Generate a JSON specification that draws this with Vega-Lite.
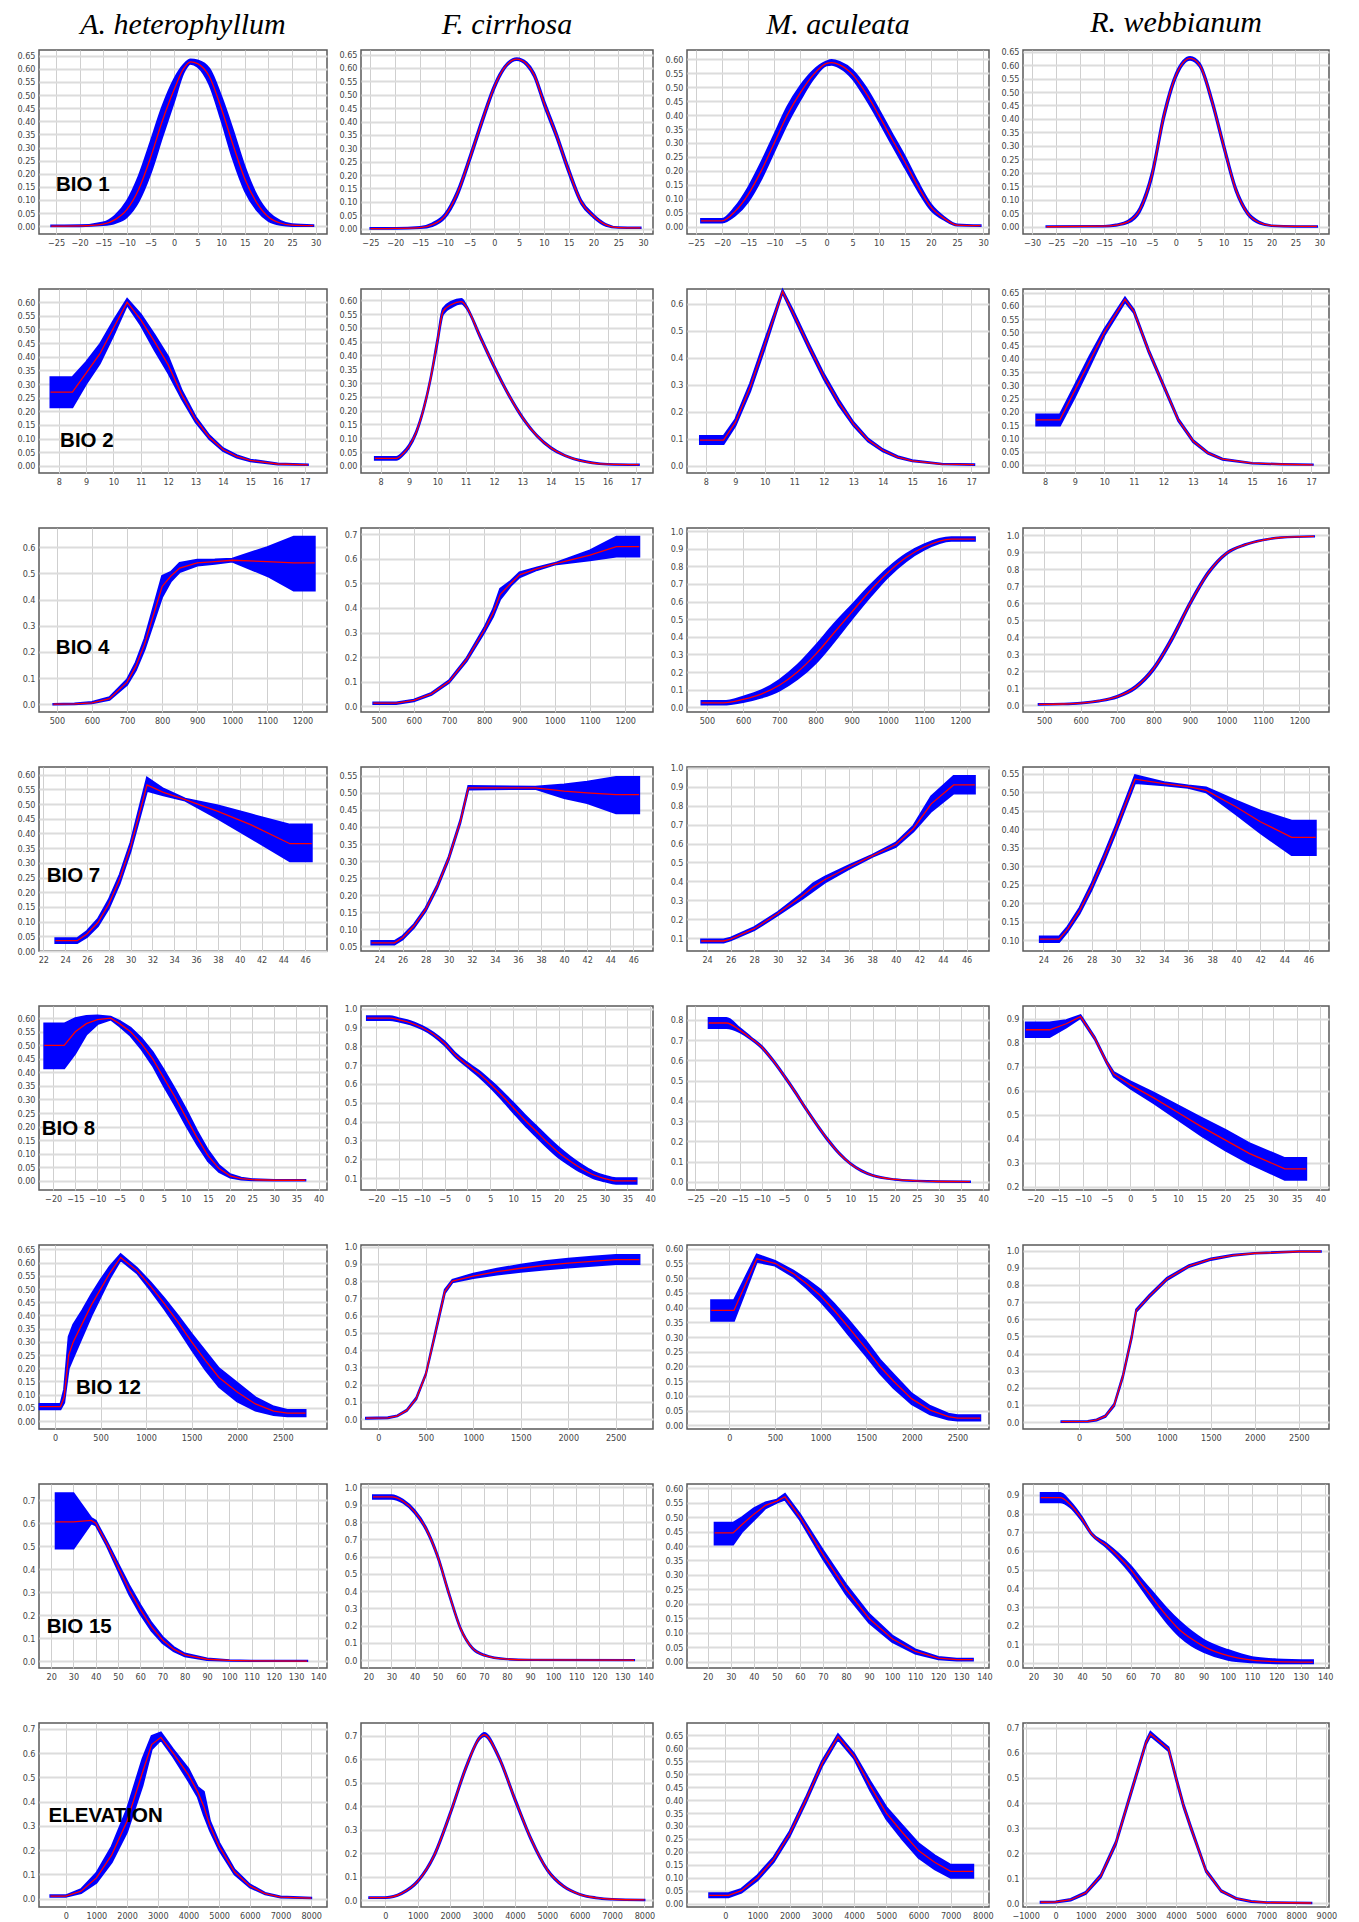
{
"$schema":"https://vega.github.io/schema/vega-lite/v6.json",
"background":"white",
"padding":{"left":16,"top":6,"right":4,"bottom":2},
"config":{
 "view":{"stroke":"#5a5a5a","strokeWidth":1.5},
 "axis":{"grid":true,"domain":false,"ticks":false,"labelOverlap":false,"labelFont":"Liberation Sans Narrow, DejaVu Sans Condensed, Arial Narrow, sans-serif","labelFontSize":9,"labelColor":"#444","labelPadding":4,"gridColor":"#cfcfcf","gridWidth":1},
 "axisY":{"gridColor":"#dcdcdc","gridWidth":2,"minExtent":22,"maxExtent":22},
 "title":{"font":"Liberation Serif","fontStyle":"italic","fontSize":30,"fontWeight":"normal","color":"#000","offset":10},
 "area":{"color":"#0000ff","stroke":"#0000ff","strokeWidth":2,"opacity":1},
 "line":{"color":"#ff0000","strokeWidth":1.3},
 "text":{"align":"left","baseline":"middle","font":"Liberation Sans","fontWeight":"bold","fontSize":20.5,"color":"#000"}
},
"datasets":{
"A1":[{"x":-26,"m":0,"l":0,"h":0.002},{"x":-20,"m":0.001,"l":0,"h":0.003},{"x":-15,"m":0.008,"l":0.004,"h":0.014},{"x":-12.5,"m":0.025,"l":0.012,"h":0.04},{"x":-10,"m":0.063,"l":0.035,"h":0.095},{"x":-7.5,"m":0.14,"l":0.095,"h":0.19},{"x":-5,"m":0.26,"l":0.2,"h":0.32},{"x":-2.5,"m":0.4,"l":0.34,"h":0.455},{"x":0,"m":0.52,"l":0.475,"h":0.56},{"x":2,"m":0.6,"l":0.585,"h":0.615},{"x":3.5,"m":0.627,"l":0.62,"h":0.636},{"x":5,"m":0.62,"l":0.608,"h":0.632},{"x":7.5,"m":0.57,"l":0.54,"h":0.6},{"x":10,"m":0.45,"l":0.405,"h":0.495},{"x":12.5,"m":0.31,"l":0.255,"h":0.365},{"x":15,"m":0.18,"l":0.135,"h":0.225},{"x":17.5,"m":0.09,"l":0.062,"h":0.118},{"x":20,"m":0.035,"l":0.02,"h":0.052},{"x":22.5,"m":0.012,"l":0.005,"h":0.02},{"x":25,"m":0.004,"l":0.001,"h":0.007},{"x":29.5,"m":0.002,"l":0.001,"h":0.003}],
"F1":[{"x":-25,"m":0,"l":0,"h":0.002},{"x":-20,"m":0.001,"l":0,"h":0.002},{"x":-15,"m":0.004,"l":0.002,"h":0.006},{"x":-12.5,"m":0.015,"l":0.01,"h":0.02},{"x":-10,"m":0.047,"l":0.04,"h":0.054},{"x":-7.5,"m":0.13,"l":0.12,"h":0.14},{"x":-5,"m":0.26,"l":0.25,"h":0.27},{"x":-2.5,"m":0.4,"l":0.39,"h":0.41},{"x":0,"m":0.53,"l":0.522,"h":0.538},{"x":2,"m":0.6,"l":0.595,"h":0.605},{"x":4.5,"m":0.633,"l":0.63,"h":0.636},{"x":6.5,"m":0.615,"l":0.61,"h":0.62},{"x":8,"m":0.575,"l":0.568,"h":0.582},{"x":10,"m":0.47,"l":0.46,"h":0.48},{"x":12.5,"m":0.35,"l":0.34,"h":0.36},{"x":15,"m":0.216,"l":0.206,"h":0.226},{"x":17.5,"m":0.1,"l":0.093,"h":0.107},{"x":20,"m":0.047,"l":0.042,"h":0.052},{"x":22.5,"m":0.014,"l":0.011,"h":0.017},{"x":25,"m":0.004,"l":0.003,"h":0.005},{"x":29.5,"m":0.003,"l":0.002,"h":0.004}],
"M1":[{"x":-24,"m":0.021,"l":0.015,"h":0.028},{"x":-20,"m":0.021,"l":0.015,"h":0.028},{"x":-17.5,"m":0.055,"l":0.04,"h":0.07},{"x":-15,"m":0.115,"l":0.09,"h":0.14},{"x":-12.5,"m":0.2,"l":0.17,"h":0.23},{"x":-10,"m":0.3,"l":0.27,"h":0.33},{"x":-7.5,"m":0.4,"l":0.37,"h":0.43},{"x":-5,"m":0.48,"l":0.455,"h":0.505},{"x":-2.5,"m":0.545,"l":0.53,"h":0.56},{"x":0,"m":0.585,"l":0.578,"h":0.592},{"x":1,"m":0.588,"l":0.58,"h":0.597},{"x":2.5,"m":0.58,"l":0.57,"h":0.59},{"x":5,"m":0.545,"l":0.53,"h":0.56},{"x":7.5,"m":0.48,"l":0.46,"h":0.5},{"x":10,"m":0.4,"l":0.38,"h":0.42},{"x":12.5,"m":0.315,"l":0.295,"h":0.335},{"x":15,"m":0.232,"l":0.212,"h":0.252},{"x":17.5,"m":0.145,"l":0.13,"h":0.16},{"x":20,"m":0.07,"l":0.06,"h":0.08},{"x":22.5,"m":0.03,"l":0.025,"h":0.035},{"x":25,"m":0.006,"l":0.004,"h":0.008},{"x":29.5,"m":0.004,"l":0.003,"h":0.005}],
"R1":[{"x":-27,"m":0,"l":0,"h":0.002},{"x":-15,"m":0.002,"l":0.001,"h":0.003},{"x":-12.5,"m":0.006,"l":0.004,"h":0.008},{"x":-10,"m":0.018,"l":0.014,"h":0.022},{"x":-7.5,"m":0.063,"l":0.055,"h":0.071},{"x":-5,"m":0.19,"l":0.178,"h":0.202},{"x":-2.5,"m":0.41,"l":0.398,"h":0.422},{"x":0,"m":0.56,"l":0.552,"h":0.568},{"x":3,"m":0.625,"l":0.62,"h":0.63},{"x":5,"m":0.6,"l":0.594,"h":0.606},{"x":7.5,"m":0.47,"l":0.46,"h":0.48},{"x":10,"m":0.3,"l":0.29,"h":0.31},{"x":12.5,"m":0.14,"l":0.132,"h":0.148},{"x":15,"m":0.05,"l":0.045,"h":0.055},{"x":17.5,"m":0.015,"l":0.012,"h":0.018},{"x":20,"m":0.004,"l":0.003,"h":0.005},{"x":25,"m":0.001,"l":0,"h":0.002},{"x":29.5,"m":0.001,"l":0,"h":0.002}],
"A2":[{"x":7.7,"m":0.27,"l":0.215,"h":0.325},{"x":8.5,"m":0.27,"l":0.215,"h":0.325},{"x":9,"m":0.34,"l":0.3,"h":0.38},{"x":9.5,"m":0.41,"l":0.375,"h":0.445},{"x":10,"m":0.505,"l":0.478,"h":0.532},{"x":10.5,"m":0.6,"l":0.59,"h":0.612},{"x":11,"m":0.535,"l":0.515,"h":0.555},{"x":11.5,"m":0.455,"l":0.425,"h":0.48},{"x":12,"m":0.37,"l":0.34,"h":0.4},{"x":12.5,"m":0.26,"l":0.245,"h":0.275},{"x":13,"m":0.17,"l":0.16,"h":0.18},{"x":13.5,"m":0.105,"l":0.098,"h":0.112},{"x":14,"m":0.06,"l":0.055,"h":0.065},{"x":14.5,"m":0.035,"l":0.031,"h":0.039},{"x":15,"m":0.02,"l":0.017,"h":0.023},{"x":16,"m":0.007,"l":0.005,"h":0.009},{"x":17.1,"m":0.004,"l":0.003,"h":0.005}],
"F2":[{"x":7.8,"m":0.027,"l":0.022,"h":0.032},{"x":8.55,"m":0.027,"l":0.022,"h":0.032},{"x":8.8,"m":0.045,"l":0.04,"h":0.05},{"x":9,"m":0.07,"l":0.065,"h":0.075},{"x":9.25,"m":0.12,"l":0.115,"h":0.125},{"x":9.5,"m":0.2,"l":0.195,"h":0.205},{"x":9.75,"m":0.31,"l":0.305,"h":0.315},{"x":10,"m":0.45,"l":0.44,"h":0.46},{"x":10.2,"m":0.56,"l":0.55,"h":0.57},{"x":10.5,"m":0.585,"l":0.575,"h":0.595},{"x":10.85,"m":0.595,"l":0.588,"h":0.605},{"x":11,"m":0.58,"l":0.575,"h":0.585},{"x":11.5,"m":0.47,"l":0.465,"h":0.475},{"x":12,"m":0.36,"l":0.355,"h":0.365},{"x":12.5,"m":0.26,"l":0.256,"h":0.264},{"x":13,"m":0.175,"l":0.171,"h":0.179},{"x":13.5,"m":0.11,"l":0.107,"h":0.113},{"x":14,"m":0.065,"l":0.062,"h":0.068},{"x":14.5,"m":0.037,"l":0.035,"h":0.039},{"x":15,"m":0.02,"l":0.018,"h":0.022},{"x":16,"m":0.006,"l":0.005,"h":0.007},{"x":17.1,"m":0.004,"l":0.003,"h":0.005}],
"M2":[{"x":7.8,"m":0.095,"l":0.08,"h":0.11},{"x":8.6,"m":0.095,"l":0.08,"h":0.11},{"x":9,"m":0.16,"l":0.148,"h":0.172},{"x":9.5,"m":0.29,"l":0.275,"h":0.305},{"x":10,"m":0.45,"l":0.435,"h":0.465},{"x":10.6,"m":0.645,"l":0.64,"h":0.65},{"x":11,"m":0.555,"l":0.545,"h":0.565},{"x":11.5,"m":0.44,"l":0.43,"h":0.45},{"x":12,"m":0.33,"l":0.32,"h":0.34},{"x":12.5,"m":0.235,"l":0.225,"h":0.245},{"x":13,"m":0.155,"l":0.148,"h":0.162},{"x":13.5,"m":0.095,"l":0.09,"h":0.1},{"x":14,"m":0.057,"l":0.053,"h":0.061},{"x":14.5,"m":0.032,"l":0.029,"h":0.035},{"x":15,"m":0.018,"l":0.016,"h":0.02},{"x":16,"m":0.006,"l":0.005,"h":0.007},{"x":17.1,"m":0.004,"l":0.003,"h":0.005}],
"R2":[{"x":7.7,"m":0.17,"l":0.148,"h":0.19},{"x":8.5,"m":0.17,"l":0.148,"h":0.19},{"x":9,"m":0.28,"l":0.255,"h":0.3},{"x":9.5,"m":0.39,"l":0.37,"h":0.41},{"x":10,"m":0.5,"l":0.488,"h":0.512},{"x":10.7,"m":0.625,"l":0.615,"h":0.632},{"x":11,"m":0.58,"l":0.574,"h":0.586},{"x":11.5,"m":0.43,"l":0.424,"h":0.436},{"x":12,"m":0.3,"l":0.294,"h":0.306},{"x":12.5,"m":0.17,"l":0.165,"h":0.175},{"x":13,"m":0.09,"l":0.086,"h":0.094},{"x":13.5,"m":0.045,"l":0.042,"h":0.048},{"x":14,"m":0.021,"l":0.019,"h":0.023},{"x":15,"m":0.006,"l":0.005,"h":0.007},{"x":16,"m":0.002,"l":0.001,"h":0.003},{"x":17.05,"m":0,"l":0,"h":0.001}],
"A3":[{"x":490,"m":0.001,"l":0,"h":0.002},{"x":550,"m":0.002,"l":0.001,"h":0.003},{"x":600,"m":0.006,"l":0.004,"h":0.009},{"x":650,"m":0.022,"l":0.017,"h":0.027},{"x":700,"m":0.085,"l":0.075,"h":0.095},{"x":725,"m":0.145,"l":0.13,"h":0.16},{"x":750,"m":0.23,"l":0.21,"h":0.25},{"x":775,"m":0.34,"l":0.31,"h":0.37},{"x":800,"m":0.45,"l":0.41,"h":0.49},{"x":825,"m":0.49,"l":0.47,"h":0.505},{"x":850,"m":0.52,"l":0.505,"h":0.54},{"x":900,"m":0.54,"l":0.53,"h":0.552},{"x":950,"m":0.545,"l":0.537,"h":0.553},{"x":1000,"m":0.55,"l":0.545,"h":0.556},{"x":1100,"m":0.545,"l":0.49,"h":0.6},{"x":1175,"m":0.54,"l":0.435,"h":0.64},{"x":1235,"m":0.54,"l":0.435,"h":0.64}],
"F3":[{"x":485,"m":0.012,"l":0.009,"h":0.015},{"x":550,"m":0.012,"l":0.009,"h":0.015},{"x":600,"m":0.023,"l":0.02,"h":0.026},{"x":650,"m":0.05,"l":0.046,"h":0.054},{"x":700,"m":0.1,"l":0.095,"h":0.105},{"x":750,"m":0.19,"l":0.183,"h":0.197},{"x":800,"m":0.31,"l":0.3,"h":0.32},{"x":825,"m":0.38,"l":0.365,"h":0.395},{"x":845,"m":0.455,"l":0.435,"h":0.478},{"x":875,"m":0.5,"l":0.49,"h":0.51},{"x":900,"m":0.535,"l":0.525,"h":0.545},{"x":950,"m":0.56,"l":0.555,"h":0.565},{"x":1000,"m":0.58,"l":0.577,"h":0.583},{"x":1100,"m":0.615,"l":0.595,"h":0.635},{"x":1175,"m":0.65,"l":0.61,"h":0.69},{"x":1240,"m":0.65,"l":0.61,"h":0.69}],
"M3":[{"x":485,"m":0.025,"l":0.015,"h":0.035},{"x":545,"m":0.025,"l":0.015,"h":0.035},{"x":600,"m":0.045,"l":0.03,"h":0.06},{"x":650,"m":0.075,"l":0.055,"h":0.095},{"x":700,"m":0.125,"l":0.095,"h":0.155},{"x":750,"m":0.2,"l":0.16,"h":0.24},{"x":800,"m":0.3,"l":0.25,"h":0.35},{"x":850,"m":0.42,"l":0.37,"h":0.47},{"x":900,"m":0.54,"l":0.5,"h":0.58},{"x":950,"m":0.66,"l":0.625,"h":0.69},{"x":1000,"m":0.765,"l":0.74,"h":0.79},{"x":1050,"m":0.85,"l":0.83,"h":0.87},{"x":1100,"m":0.91,"l":0.895,"h":0.925},{"x":1175,"m":0.955,"l":0.945,"h":0.965},{"x":1240,"m":0.955,"l":0.945,"h":0.965}],
"R3":[{"x":485,"m":0.005,"l":0.003,"h":0.007},{"x":550,"m":0.007,"l":0.005,"h":0.009},{"x":600,"m":0.012,"l":0.01,"h":0.014},{"x":650,"m":0.025,"l":0.022,"h":0.028},{"x":700,"m":0.05,"l":0.045,"h":0.055},{"x":750,"m":0.105,"l":0.097,"h":0.113},{"x":800,"m":0.215,"l":0.205,"h":0.225},{"x":850,"m":0.39,"l":0.378,"h":0.402},{"x":900,"m":0.6,"l":0.59,"h":0.61},{"x":950,"m":0.78,"l":0.772,"h":0.788},{"x":1000,"m":0.895,"l":0.89,"h":0.9},{"x":1050,"m":0.945,"l":0.942,"h":0.948},{"x":1100,"m":0.973,"l":0.971,"h":0.975},{"x":1150,"m":0.988,"l":0.987,"h":0.989},{"x":1240,"m":0.995,"l":0.994,"h":0.996}],
"A4":[{"x":23.1,"m":0.035,"l":0.027,"h":0.043},{"x":25.1,"m":0.035,"l":0.027,"h":0.043},{"x":26,"m":0.058,"l":0.048,"h":0.068},{"x":27,"m":0.097,"l":0.085,"h":0.109},{"x":28,"m":0.16,"l":0.145,"h":0.175},{"x":29,"m":0.245,"l":0.23,"h":0.26},{"x":30,"m":0.355,"l":0.34,"h":0.37},{"x":31.5,"m":0.565,"l":0.545,"h":0.59},{"x":33,"m":0.54,"l":0.53,"h":0.552},{"x":35,"m":0.515,"l":0.512,"h":0.518},{"x":38,"m":0.475,"l":0.45,"h":0.495},{"x":41,"m":0.43,"l":0.385,"h":0.465},{"x":44.6,"m":0.365,"l":0.305,"h":0.43},{"x":46.6,"m":0.365,"l":0.305,"h":0.43}],
"F4":[{"x":23.3,"m":0.06,"l":0.055,"h":0.065},{"x":25.3,"m":0.06,"l":0.055,"h":0.065},{"x":26,"m":0.075,"l":0.07,"h":0.08},{"x":27,"m":0.11,"l":0.105,"h":0.115},{"x":28,"m":0.158,"l":0.153,"h":0.163},{"x":29,"m":0.225,"l":0.22,"h":0.23},{"x":30,"m":0.308,"l":0.303,"h":0.313},{"x":31,"m":0.415,"l":0.41,"h":0.42},{"x":31.7,"m":0.515,"l":0.51,"h":0.52},{"x":37.5,"m":0.515,"l":0.512,"h":0.518},{"x":40,"m":0.505,"l":0.485,"h":0.525},{"x":42,"m":0.5,"l":0.47,"h":0.533},{"x":44.5,"m":0.495,"l":0.44,"h":0.547},{"x":46.5,"m":0.495,"l":0.44,"h":0.547}],
"M4":[{"x":23.5,"m":0.085,"l":0.077,"h":0.093},{"x":25.4,"m":0.085,"l":0.077,"h":0.093},{"x":26,"m":0.095,"l":0.088,"h":0.102},{"x":28,"m":0.15,"l":0.142,"h":0.158},{"x":30,"m":0.23,"l":0.222,"h":0.238},{"x":32,"m":0.32,"l":0.305,"h":0.335},{"x":33,"m":0.37,"l":0.35,"h":0.39},{"x":34,"m":0.41,"l":0.395,"h":0.425},{"x":36,"m":0.475,"l":0.465,"h":0.485},{"x":38,"m":0.535,"l":0.53,"h":0.54},{"x":40,"m":0.595,"l":0.583,"h":0.605},{"x":41.5,"m":0.68,"l":0.665,"h":0.695},{"x":43,"m":0.81,"l":0.77,"h":0.85},{"x":44.9,"m":0.91,"l":0.865,"h":0.957},{"x":46.7,"m":0.91,"l":0.865,"h":0.957}],
"R4":[{"x":23.7,"m":0.103,"l":0.095,"h":0.11},{"x":25.3,"m":0.103,"l":0.095,"h":0.11},{"x":26,"m":0.13,"l":0.123,"h":0.137},{"x":27,"m":0.18,"l":0.172,"h":0.188},{"x":28,"m":0.245,"l":0.236,"h":0.254},{"x":29,"m":0.32,"l":0.31,"h":0.33},{"x":30,"m":0.4,"l":0.39,"h":0.41},{"x":31.6,"m":0.535,"l":0.525,"h":0.546},{"x":34,"m":0.523,"l":0.519,"h":0.527},{"x":36,"m":0.515,"l":0.512,"h":0.518},{"x":37.5,"m":0.505,"l":0.5,"h":0.513},{"x":40,"m":0.46,"l":0.44,"h":0.477},{"x":42,"m":0.42,"l":0.39,"h":0.45},{"x":44.6,"m":0.378,"l":0.33,"h":0.423},{"x":46.6,"m":0.378,"l":0.33,"h":0.423}],
"A5":[{"x":-22,"m":0.5,"l":0.415,"h":0.58},{"x":-17.5,"m":0.5,"l":0.415,"h":0.58},{"x":-15,"m":0.55,"l":0.47,"h":0.6},{"x":-12.5,"m":0.58,"l":0.54,"h":0.608},{"x":-10,"m":0.595,"l":0.578,"h":0.61},{"x":-7,"m":0.6,"l":0.595,"h":0.605},{"x":-5,"m":0.58,"l":0.57,"h":0.59},{"x":-2.5,"m":0.55,"l":0.535,"h":0.565},{"x":0,"m":0.505,"l":0.485,"h":0.525},{"x":2.5,"m":0.45,"l":0.425,"h":0.475},{"x":5,"m":0.38,"l":0.35,"h":0.41},{"x":7.5,"m":0.31,"l":0.28,"h":0.34},{"x":10,"m":0.235,"l":0.205,"h":0.265},{"x":12.5,"m":0.16,"l":0.135,"h":0.185},{"x":15,"m":0.093,"l":0.073,"h":0.113},{"x":17.5,"m":0.045,"l":0.033,"h":0.057},{"x":20,"m":0.018,"l":0.012,"h":0.024},{"x":22.5,"m":0.008,"l":0.005,"h":0.011},{"x":25,"m":0.004,"l":0.002,"h":0.006},{"x":30,"m":0.002,"l":0.001,"h":0.003},{"x":37,"m":0.002,"l":0.001,"h":0.003}],
"F5":[{"x":-22,"m":0.95,"l":0.94,"h":0.96},{"x":-17,"m":0.95,"l":0.94,"h":0.96},{"x":-15,"m":0.94,"l":0.932,"h":0.948},{"x":-12.5,"m":0.925,"l":0.917,"h":0.933},{"x":-10,"m":0.9,"l":0.892,"h":0.908},{"x":-7.5,"m":0.865,"l":0.857,"h":0.873},{"x":-5,"m":0.815,"l":0.805,"h":0.825},{"x":-2.5,"m":0.75,"l":0.74,"h":0.76},{"x":0,"m":0.7,"l":0.69,"h":0.712},{"x":2.5,"m":0.655,"l":0.64,"h":0.67},{"x":5,"m":0.6,"l":0.582,"h":0.618},{"x":7.5,"m":0.54,"l":0.518,"h":0.562},{"x":10,"m":0.475,"l":0.45,"h":0.5},{"x":12.5,"m":0.41,"l":0.383,"h":0.437},{"x":15,"m":0.35,"l":0.322,"h":0.378},{"x":17.5,"m":0.29,"l":0.262,"h":0.318},{"x":20,"m":0.235,"l":0.208,"h":0.262},{"x":22.5,"m":0.19,"l":0.167,"h":0.213},{"x":25,"m":0.15,"l":0.13,"h":0.17},{"x":27.5,"m":0.118,"l":0.101,"h":0.135},{"x":30,"m":0.098,"l":0.083,"h":0.113},{"x":32.5,"m":0.085,"l":0.07,"h":0.1},{"x":37,"m":0.085,"l":0.07,"h":0.1}],
"M5":[{"x":-22,"m":0.785,"l":0.76,"h":0.81},{"x":-18,"m":0.785,"l":0.76,"h":0.81},{"x":-15,"m":0.75,"l":0.74,"h":0.76},{"x":-12.5,"m":0.71,"l":0.705,"h":0.715},{"x":-10,"m":0.665,"l":0.66,"h":0.67},{"x":-7.5,"m":0.6,"l":0.595,"h":0.605},{"x":-5,"m":0.525,"l":0.52,"h":0.53},{"x":-2.5,"m":0.445,"l":0.44,"h":0.45},{"x":0,"m":0.36,"l":0.355,"h":0.365},{"x":2.5,"m":0.28,"l":0.275,"h":0.285},{"x":5,"m":0.205,"l":0.2,"h":0.21},{"x":7.5,"m":0.14,"l":0.136,"h":0.144},{"x":10,"m":0.09,"l":0.087,"h":0.093},{"x":12.5,"m":0.055,"l":0.052,"h":0.058},{"x":15,"m":0.032,"l":0.03,"h":0.034},{"x":20,"m":0.012,"l":0.011,"h":0.013},{"x":25,"m":0.005,"l":0.004,"h":0.006},{"x":30,"m":0.002,"l":0.001,"h":0.003},{"x":37,"m":0.001,"l":0,"h":0.002}],
"R5":[{"x":-22,"m":0.855,"l":0.825,"h":0.885},{"x":-17,"m":0.855,"l":0.825,"h":0.885},{"x":-13.5,"m":0.88,"l":0.865,"h":0.895},{"x":-10.5,"m":0.91,"l":0.904,"h":0.916},{"x":-7.5,"m":0.82,"l":0.815,"h":0.825},{"x":-5,"m":0.72,"l":0.715,"h":0.725},{"x":-3.5,"m":0.67,"l":0.66,"h":0.678},{"x":0,"m":0.625,"l":0.61,"h":0.64},{"x":5,"m":0.57,"l":0.548,"h":0.592},{"x":10,"m":0.51,"l":0.48,"h":0.54},{"x":15,"m":0.45,"l":0.412,"h":0.488},{"x":20,"m":0.395,"l":0.352,"h":0.438},{"x":25,"m":0.34,"l":0.298,"h":0.382},{"x":32.5,"m":0.275,"l":0.23,"h":0.32},{"x":37,"m":0.275,"l":0.23,"h":0.32}],
"A6":[{"x":-170,"m":0.055,"l":0.045,"h":0.065},{"x":60,"m":0.055,"l":0.045,"h":0.065},{"x":100,"m":0.09,"l":0.07,"h":0.12},{"x":150,"m":0.25,"l":0.2,"h":0.32},{"x":200,"m":0.3,"l":0.24,"h":0.365},{"x":300,"m":0.37,"l":0.32,"h":0.42},{"x":400,"m":0.44,"l":0.4,"h":0.48},{"x":500,"m":0.5,"l":0.47,"h":0.535},{"x":600,"m":0.56,"l":0.54,"h":0.585},{"x":720,"m":0.62,"l":0.61,"h":0.632},{"x":900,"m":0.57,"l":0.56,"h":0.58},{"x":1050,"m":0.51,"l":0.495,"h":0.525},{"x":1200,"m":0.445,"l":0.425,"h":0.465},{"x":1350,"m":0.375,"l":0.35,"h":0.4},{"x":1500,"m":0.3,"l":0.27,"h":0.33},{"x":1650,"m":0.23,"l":0.195,"h":0.265},{"x":1800,"m":0.165,"l":0.13,"h":0.2},{"x":2000,"m":0.11,"l":0.075,"h":0.145},{"x":2200,"m":0.065,"l":0.04,"h":0.09},{"x":2400,"m":0.038,"l":0.023,"h":0.055},{"x":2550,"m":0.03,"l":0.018,"h":0.042},{"x":2750,"m":0.03,"l":0.018,"h":0.042}],
"F6":[{"x":-130,"m":0.005,"l":0.002,"h":0.008},{"x":100,"m":0.007,"l":0.004,"h":0.01},{"x":200,"m":0.018,"l":0.015,"h":0.021},{"x":300,"m":0.05,"l":0.046,"h":0.054},{"x":400,"m":0.12,"l":0.115,"h":0.125},{"x":500,"m":0.26,"l":0.255,"h":0.265},{"x":600,"m":0.5,"l":0.49,"h":0.51},{"x":700,"m":0.74,"l":0.73,"h":0.75},{"x":780,"m":0.8,"l":0.793,"h":0.808},{"x":1000,"m":0.83,"l":0.818,"h":0.843},{"x":1250,"m":0.855,"l":0.838,"h":0.872},{"x":1500,"m":0.875,"l":0.855,"h":0.895},{"x":1750,"m":0.892,"l":0.868,"h":0.915},{"x":2000,"m":0.905,"l":0.88,"h":0.93},{"x":2250,"m":0.915,"l":0.89,"h":0.942},{"x":2500,"m":0.925,"l":0.9,"h":0.952},{"x":2750,"m":0.925,"l":0.9,"h":0.952}],
"M6":[{"x":-200,"m":0.39,"l":0.355,"h":0.425},{"x":50,"m":0.39,"l":0.355,"h":0.425},{"x":300,"m":0.565,"l":0.555,"h":0.58},{"x":500,"m":0.55,"l":0.542,"h":0.558},{"x":700,"m":0.515,"l":0.505,"h":0.525},{"x":850,"m":0.48,"l":0.465,"h":0.495},{"x":1000,"m":0.44,"l":0.42,"h":0.46},{"x":1150,"m":0.39,"l":0.368,"h":0.412},{"x":1300,"m":0.335,"l":0.31,"h":0.36},{"x":1500,"m":0.26,"l":0.235,"h":0.285},{"x":1650,"m":0.2,"l":0.177,"h":0.223},{"x":1800,"m":0.15,"l":0.127,"h":0.173},{"x":2000,"m":0.09,"l":0.072,"h":0.108},{"x":2200,"m":0.052,"l":0.038,"h":0.066},{"x":2400,"m":0.03,"l":0.02,"h":0.04},{"x":2500,"m":0.025,"l":0.017,"h":0.035},{"x":2750,"m":0.025,"l":0.017,"h":0.035}],
"R6":[{"x":-200,"m":0.003,"l":0.001,"h":0.005},{"x":100,"m":0.005,"l":0.003,"h":0.007},{"x":200,"m":0.013,"l":0.01,"h":0.016},{"x":300,"m":0.035,"l":0.03,"h":0.04},{"x":400,"m":0.1,"l":0.094,"h":0.106},{"x":500,"m":0.27,"l":0.262,"h":0.278},{"x":600,"m":0.5,"l":0.49,"h":0.51},{"x":650,"m":0.65,"l":0.643,"h":0.657},{"x":800,"m":0.735,"l":0.728,"h":0.742},{"x":1000,"m":0.835,"l":0.828,"h":0.842},{"x":1250,"m":0.91,"l":0.905,"h":0.915},{"x":1500,"m":0.95,"l":0.946,"h":0.954},{"x":1750,"m":0.973,"l":0.97,"h":0.976},{"x":2000,"m":0.985,"l":0.983,"h":0.987},{"x":2500,"m":0.995,"l":0.993,"h":0.997},{"x":2750,"m":0.995,"l":0.993,"h":0.997}],
"A7":[{"x":22,"m":0.605,"l":0.49,"h":0.73},{"x":30,"m":0.605,"l":0.49,"h":0.73},{"x":38,"m":0.612,"l":0.6,"h":0.622},{"x":40,"m":0.6,"l":0.59,"h":0.61},{"x":45,"m":0.51,"l":0.5,"h":0.52},{"x":50,"m":0.41,"l":0.395,"h":0.425},{"x":55,"m":0.31,"l":0.29,"h":0.33},{"x":60,"m":0.225,"l":0.205,"h":0.245},{"x":65,"m":0.15,"l":0.133,"h":0.167},{"x":70,"m":0.092,"l":0.079,"h":0.105},{"x":75,"m":0.052,"l":0.043,"h":0.061},{"x":80,"m":0.027,"l":0.021,"h":0.033},{"x":90,"m":0.008,"l":0.005,"h":0.011},{"x":100,"m":0.003,"l":0.002,"h":0.004},{"x":110,"m":0.001,"l":0,"h":0.002},{"x":135,"m":0,"l":0,"h":0.001}],
"F7":[{"x":22,"m":0.945,"l":0.935,"h":0.955},{"x":30,"m":0.945,"l":0.935,"h":0.955},{"x":35,"m":0.92,"l":0.912,"h":0.928},{"x":40,"m":0.86,"l":0.852,"h":0.868},{"x":45,"m":0.76,"l":0.752,"h":0.768},{"x":50,"m":0.6,"l":0.592,"h":0.608},{"x":55,"m":0.38,"l":0.372,"h":0.388},{"x":60,"m":0.18,"l":0.174,"h":0.186},{"x":65,"m":0.07,"l":0.066,"h":0.074},{"x":70,"m":0.03,"l":0.027,"h":0.033},{"x":80,"m":0.006,"l":0.005,"h":0.007},{"x":90,"m":0.002,"l":0.001,"h":0.003},{"x":135,"m":0,"l":0,"h":0.001}],
"M7":[{"x":23,"m":0.445,"l":0.405,"h":0.48},{"x":31,"m":0.445,"l":0.405,"h":0.48},{"x":35,"m":0.475,"l":0.45,"h":0.5},{"x":40,"m":0.51,"l":0.49,"h":0.53},{"x":45,"m":0.54,"l":0.53,"h":0.55},{"x":50,"m":0.555,"l":0.55,"h":0.56},{"x":53.5,"m":0.57,"l":0.56,"h":0.58},{"x":60,"m":0.5,"l":0.49,"h":0.51},{"x":70,"m":0.37,"l":0.355,"h":0.385},{"x":80,"m":0.25,"l":0.233,"h":0.267},{"x":90,"m":0.15,"l":0.135,"h":0.165},{"x":100,"m":0.08,"l":0.069,"h":0.091},{"x":110,"m":0.036,"l":0.029,"h":0.043},{"x":120,"m":0.013,"l":0.009,"h":0.017},{"x":128,"m":0.008,"l":0.005,"h":0.011},{"x":135,"m":0.008,"l":0.005,"h":0.011}],
"R7":[{"x":23,"m":0.885,"l":0.86,"h":0.91},{"x":31,"m":0.885,"l":0.86,"h":0.91},{"x":35,"m":0.85,"l":0.835,"h":0.865},{"x":40,"m":0.77,"l":0.76,"h":0.78},{"x":44,"m":0.69,"l":0.685,"h":0.695},{"x":50,"m":0.63,"l":0.62,"h":0.64},{"x":55,"m":0.57,"l":0.555,"h":0.585},{"x":60,"m":0.5,"l":0.48,"h":0.52},{"x":65,"m":0.415,"l":0.39,"h":0.44},{"x":70,"m":0.33,"l":0.3,"h":0.365},{"x":75,"m":0.25,"l":0.215,"h":0.29},{"x":80,"m":0.18,"l":0.145,"h":0.225},{"x":85,"m":0.13,"l":0.095,"h":0.17},{"x":90,"m":0.09,"l":0.06,"h":0.125},{"x":100,"m":0.04,"l":0.018,"h":0.07},{"x":110,"m":0.016,"l":0.005,"h":0.032},{"x":120,"m":0.008,"l":0,"h":0.02},{"x":135,"m":0.005,"l":0,"h":0.015}],
"A8":[{"x":-500,"m":0.01,"l":0.007,"h":0.013},{"x":0,"m":0.01,"l":0.007,"h":0.013},{"x":500,"m":0.03,"l":0.022,"h":0.038},{"x":1000,"m":0.085,"l":0.065,"h":0.105},{"x":1500,"m":0.18,"l":0.15,"h":0.215},{"x":2000,"m":0.32,"l":0.275,"h":0.37},{"x":2500,"m":0.52,"l":0.465,"h":0.575},{"x":2800,"m":0.635,"l":0.615,"h":0.67},{"x":3100,"m":0.665,"l":0.655,"h":0.685},{"x":3500,"m":0.6,"l":0.585,"h":0.615},{"x":4000,"m":0.51,"l":0.485,"h":0.535},{"x":4300,"m":0.44,"l":0.42,"h":0.46},{"x":4500,"m":0.38,"l":0.345,"h":0.44},{"x":4700,"m":0.3,"l":0.28,"h":0.32},{"x":5000,"m":0.215,"l":0.2,"h":0.23},{"x":5500,"m":0.11,"l":0.1,"h":0.12},{"x":6000,"m":0.052,"l":0.046,"h":0.058},{"x":6500,"m":0.02,"l":0.017,"h":0.023},{"x":7000,"m":0.006,"l":0.004,"h":0.008},{"x":8000,"m":0.002,"l":0.001,"h":0.003}],
"F8":[{"x":-500,"m":0.012,"l":0.01,"h":0.014},{"x":0,"m":0.012,"l":0.01,"h":0.014},{"x":500,"m":0.03,"l":0.027,"h":0.033},{"x":1000,"m":0.082,"l":0.078,"h":0.086},{"x":1500,"m":0.19,"l":0.184,"h":0.196},{"x":2000,"m":0.37,"l":0.363,"h":0.377},{"x":2500,"m":0.57,"l":0.563,"h":0.577},{"x":2900,"m":0.69,"l":0.685,"h":0.695},{"x":3050,"m":0.705,"l":0.7,"h":0.712},{"x":3500,"m":0.61,"l":0.604,"h":0.616},{"x":4000,"m":0.43,"l":0.423,"h":0.437},{"x":4500,"m":0.26,"l":0.254,"h":0.266},{"x":5000,"m":0.13,"l":0.126,"h":0.134},{"x":5500,"m":0.06,"l":0.057,"h":0.063},{"x":6000,"m":0.026,"l":0.024,"h":0.028},{"x":6500,"m":0.011,"l":0.009,"h":0.013},{"x":7000,"m":0.005,"l":0.004,"h":0.006},{"x":8000,"m":0.002,"l":0.001,"h":0.003}],
"M8":[{"x":-500,"m":0.032,"l":0.025,"h":0.04},{"x":100,"m":0.032,"l":0.025,"h":0.04},{"x":500,"m":0.05,"l":0.043,"h":0.057},{"x":1000,"m":0.1,"l":0.09,"h":0.11},{"x":1500,"m":0.17,"l":0.16,"h":0.18},{"x":2000,"m":0.27,"l":0.26,"h":0.28},{"x":2500,"m":0.4,"l":0.39,"h":0.41},{"x":3000,"m":0.54,"l":0.53,"h":0.55},{"x":3500,"m":0.645,"l":0.635,"h":0.655},{"x":4000,"m":0.57,"l":0.56,"h":0.58},{"x":4500,"m":0.455,"l":0.437,"h":0.473},{"x":5000,"m":0.35,"l":0.327,"h":0.373},{"x":5500,"m":0.275,"l":0.248,"h":0.302},{"x":6000,"m":0.205,"l":0.177,"h":0.233},{"x":6500,"m":0.16,"l":0.133,"h":0.187},{"x":7000,"m":0.125,"l":0.1,"h":0.15},{"x":7700,"m":0.125,"l":0.1,"h":0.15}],
"R8":[{"x":-500,"m":0.005,"l":0.003,"h":0.007},{"x":0,"m":0.006,"l":0.004,"h":0.008},{"x":500,"m":0.015,"l":0.012,"h":0.018},{"x":1000,"m":0.042,"l":0.038,"h":0.046},{"x":1500,"m":0.11,"l":0.104,"h":0.116},{"x":2000,"m":0.24,"l":0.233,"h":0.247},{"x":2500,"m":0.44,"l":0.432,"h":0.448},{"x":3000,"m":0.64,"l":0.633,"h":0.647},{"x":3150,"m":0.675,"l":0.668,"h":0.684},{"x":3500,"m":0.64,"l":0.633,"h":0.647},{"x":3750,"m":0.615,"l":0.608,"h":0.622},{"x":4000,"m":0.5,"l":0.492,"h":0.508},{"x":4250,"m":0.39,"l":0.383,"h":0.397},{"x":4500,"m":0.3,"l":0.293,"h":0.307},{"x":5000,"m":0.13,"l":0.125,"h":0.135},{"x":5500,"m":0.05,"l":0.047,"h":0.053},{"x":6000,"m":0.02,"l":0.018,"h":0.022},{"x":6500,"m":0.008,"l":0.006,"h":0.01},{"x":7000,"m":0.004,"l":0.003,"h":0.005},{"x":8500,"m":0.002,"l":0.001,"h":0.003}]
},
"columns":4,
"spacing":{"row":55,"column":34},
"bounds":"flush",
"align":"each",
"concat":[
{"title":"A. heterophyllum","width":288,"height":184,"data":{"name":"A1"},"layer":[
 {"mark":{"type":"area","interpolate":"monotone"},"encoding":{"x":{"field":"x","type":"quantitative","title":null,"scale":{"domain":[-28.6,32.4],"nice":false,"zero":false},"axis":{"values":[-25,-20,-15,-10,-5,0,5,10,15,20,25,30],"format":"d"}},"y":{"field":"l","type":"quantitative","title":null,"scale":{"domain":[-0.03,0.672],"nice":false,"zero":false},"axis":{"values":[0,0.05,0.1,0.15,0.2,0.25,0.3,0.35,0.4,0.45,0.5,0.55,0.6,0.65],"format":".2f"}},"y2":{"field":"h"}}},
 {"mark":{"type":"line","interpolate":"monotone"},"encoding":{"x":{"field":"x","type":"quantitative","title":null,"scale":{"domain":[-28.6,32.4],"nice":false,"zero":false},"axis":{"values":[-25,-20,-15,-10,-5,0,5,10,15,20,25,30],"format":"d"}},"y":{"field":"m","type":"quantitative","title":null,"scale":{"domain":[-0.03,0.672],"nice":false,"zero":false},"axis":{"values":[0,0.05,0.1,0.15,0.2,0.25,0.3,0.35,0.4,0.45,0.5,0.55,0.6,0.65],"format":".2f"}}}},
 {"data":{"values":[{"k":1}]},"mark":{"type":"text","text":"BIO 1"},"encoding":{"x":{"datum":-25,"type":"quantitative","title":null,"scale":{"domain":[-28.6,32.4],"nice":false,"zero":false},"axis":{"values":[-25,-20,-15,-10,-5,0,5,10,15,20,25,30],"format":"d"}},"y":{"datum":0.158,"type":"quantitative","title":null,"scale":{"domain":[-0.03,0.672],"nice":false,"zero":false},"axis":{"values":[0,0.05,0.1,0.15,0.2,0.25,0.3,0.35,0.4,0.45,0.5,0.55,0.6,0.65],"format":".2f"}}}}]},
{"title":"F. cirrhosa","width":292,"height":184,"data":{"name":"F1"},"encoding":{"x":{"field":"x","type":"quantitative","title":null,"scale":{"domain":[-26.9,32],"nice":false,"zero":false},"axis":{"values":[-25,-20,-15,-10,-5,0,5,10,15,20,25,30],"format":"d"}},"y":{"field":"m","type":"quantitative","title":null,"scale":{"domain":[-0.02,0.667],"nice":false,"zero":false},"axis":{"values":[0,0.05,0.1,0.15,0.2,0.25,0.3,0.35,0.4,0.45,0.5,0.55,0.6,0.65],"format":".2f"}}},"layer":[{"mark":{"type":"area","interpolate":"monotone"},"encoding":{"y":{"field":"l","type":"quantitative","title":null},"y2":{"field":"h"}}},{"mark":{"type":"line","interpolate":"monotone"},"encoding":{}}]},
{"title":"M. aculeata","width":302,"height":184,"data":{"name":"M1"},"encoding":{"x":{"field":"x","type":"quantitative","title":null,"scale":{"domain":[-26.7,31.1],"nice":false,"zero":false},"axis":{"values":[-25,-20,-15,-10,-5,0,5,10,15,20,25,30],"format":"d"}},"y":{"field":"m","type":"quantitative","title":null,"scale":{"domain":[-0.026,0.633],"nice":false,"zero":false},"axis":{"values":[0,0.05,0.1,0.15,0.2,0.25,0.3,0.35,0.4,0.45,0.5,0.55,0.6],"format":".2f"}}},"layer":[{"mark":{"type":"area","interpolate":"monotone"},"encoding":{"y":{"field":"l","type":"quantitative","title":null},"y2":{"field":"h"}}},{"mark":{"type":"line","interpolate":"monotone"},"encoding":{}}]},
{"title":"R. webbianum","width":306,"height":184,"data":{"name":"R1"},"encoding":{"x":{"field":"x","type":"quantitative","title":null,"scale":{"domain":[-31.9,32],"nice":false,"zero":false},"axis":{"values":[-30,-25,-20,-15,-10,-5,0,5,10,15,20,25,30],"format":"d"}},"y":{"field":"m","type":"quantitative","title":null,"scale":{"domain":[-0.027,0.656],"nice":false,"zero":false},"axis":{"values":[0,0.05,0.1,0.15,0.2,0.25,0.3,0.35,0.4,0.45,0.5,0.55,0.6,0.65],"format":".2f"}}},"layer":[{"mark":{"type":"area","interpolate":"monotone"},"encoding":{"y":{"field":"l","type":"quantitative","title":null},"y2":{"field":"h"}}},{"mark":{"type":"line","interpolate":"monotone"},"encoding":{}}]},

{"width":288,"height":184,"data":{"name":"A2"},"layer":[
 {"mark":{"type":"area"},"encoding":{"x":{"field":"x","type":"quantitative","title":null,"scale":{"domain":[7.28,17.8],"nice":false,"zero":false},"axis":{"values":[8,9,10,11,12,13,14,15,16,17],"format":"d"}},"y":{"field":"l","type":"quantitative","title":null,"scale":{"domain":[-0.026,0.648],"nice":false,"zero":false},"axis":{"values":[0,0.05,0.1,0.15,0.2,0.25,0.3,0.35,0.4,0.45,0.5,0.55,0.6],"format":".2f"}},"y2":{"field":"h"}}},
 {"mark":{"type":"line"},"encoding":{"x":{"field":"x","type":"quantitative","title":null,"scale":{"domain":[7.28,17.8],"nice":false,"zero":false},"axis":{"values":[8,9,10,11,12,13,14,15,16,17],"format":"d"}},"y":{"field":"m","type":"quantitative","title":null,"scale":{"domain":[-0.026,0.648],"nice":false,"zero":false},"axis":{"values":[0,0.05,0.1,0.15,0.2,0.25,0.3,0.35,0.4,0.45,0.5,0.55,0.6],"format":".2f"}}}},
 {"data":{"values":[{"k":1}]},"mark":{"type":"text","text":"BIO 2"},"encoding":{"x":{"datum":8.05,"type":"quantitative","title":null,"scale":{"domain":[7.28,17.8],"nice":false,"zero":false},"axis":{"values":[8,9,10,11,12,13,14,15,16,17],"format":"d"}},"y":{"datum":0.09,"type":"quantitative","title":null,"scale":{"domain":[-0.026,0.648],"nice":false,"zero":false},"axis":{"values":[0,0.05,0.1,0.15,0.2,0.25,0.3,0.35,0.4,0.45,0.5,0.55,0.6],"format":".2f"}}}}]},
{"width":292,"height":184,"data":{"name":"F2"},"encoding":{"x":{"field":"x","type":"quantitative","title":null,"scale":{"domain":[7.31,17.6],"nice":false,"zero":false},"axis":{"values":[8,9,10,11,12,13,14,15,16,17],"format":"d"}},"y":{"field":"m","type":"quantitative","title":null,"scale":{"domain":[-0.026,0.641],"nice":false,"zero":false},"axis":{"values":[0,0.05,0.1,0.15,0.2,0.25,0.3,0.35,0.4,0.45,0.5,0.55,0.6],"format":".2f"}}},"layer":[{"mark":{"type":"area","interpolate":"monotone"},"encoding":{"y":{"field":"l","type":"quantitative","title":null},"y2":{"field":"h"}}},{"mark":{"type":"line","interpolate":"monotone"},"encoding":{}}]},
{"width":302,"height":184,"data":{"name":"M2"},"encoding":{"x":{"field":"x","type":"quantitative","title":null,"scale":{"domain":[7.36,17.6],"nice":false,"zero":false},"axis":{"values":[8,9,10,11,12,13,14,15,16,17],"format":"d"}},"y":{"field":"m","type":"quantitative","title":null,"scale":{"domain":[-0.027,0.654],"nice":false,"zero":false},"axis":{"values":[0,0.1,0.2,0.3,0.4,0.5,0.6],"format":".1f"}}},"layer":[{"mark":{"type":"area"},"encoding":{"y":{"field":"l","type":"quantitative","title":null},"y2":{"field":"h"}}},{"mark":{"type":"line"},"encoding":{}}]},
{"width":306,"height":184,"data":{"name":"R2"},"encoding":{"x":{"field":"x","type":"quantitative","title":null,"scale":{"domain":[7.25,17.6],"nice":false,"zero":false},"axis":{"values":[8,9,10,11,12,13,14,15,16,17],"format":"d"}},"y":{"field":"m","type":"quantitative","title":null,"scale":{"domain":[-0.031,0.664],"nice":false,"zero":false},"axis":{"values":[0,0.05,0.1,0.15,0.2,0.25,0.3,0.35,0.4,0.45,0.5,0.55,0.6,0.65],"format":".2f"}}},"layer":[{"mark":{"type":"area"},"encoding":{"y":{"field":"l","type":"quantitative","title":null},"y2":{"field":"h"}}},{"mark":{"type":"line"},"encoding":{}}]},

{"width":288,"height":184,"data":{"name":"A3"},"layer":[
 {"mark":{"type":"area"},"encoding":{"x":{"field":"x","type":"quantitative","title":null,"scale":{"domain":[449,1270],"nice":false,"zero":false},"axis":{"values":[500,600,700,800,900,1000,1100,1200],"format":"d"}},"y":{"field":"l","type":"quantitative","title":null,"scale":{"domain":[-0.029,0.673],"nice":false,"zero":false},"axis":{"values":[0,0.1,0.2,0.3,0.4,0.5,0.6],"format":".1f"}},"y2":{"field":"h"}}},
 {"mark":{"type":"line"},"encoding":{"x":{"field":"x","type":"quantitative","title":null,"scale":{"domain":[449,1270],"nice":false,"zero":false},"axis":{"values":[500,600,700,800,900,1000,1100,1200],"format":"d"}},"y":{"field":"m","type":"quantitative","title":null,"scale":{"domain":[-0.029,0.673],"nice":false,"zero":false},"axis":{"values":[0,0.1,0.2,0.3,0.4,0.5,0.6],"format":".1f"}}}},
 {"data":{"values":[{"k":1}]},"mark":{"type":"text","text":"BIO 4"},"encoding":{"x":{"datum":497,"type":"quantitative","title":null,"scale":{"domain":[449,1270],"nice":false,"zero":false},"axis":{"values":[500,600,700,800,900,1000,1100,1200],"format":"d"}},"y":{"datum":0.216,"type":"quantitative","title":null,"scale":{"domain":[-0.029,0.673],"nice":false,"zero":false},"axis":{"values":[0,0.1,0.2,0.3,0.4,0.5,0.6],"format":".1f"}}}}]},
{"width":292,"height":184,"data":{"name":"F3"},"encoding":{"x":{"field":"x","type":"quantitative","title":null,"scale":{"domain":[450,1279],"nice":false,"zero":false},"axis":{"values":[500,600,700,800,900,1000,1100,1200],"format":"d"}},"y":{"field":"m","type":"quantitative","title":null,"scale":{"domain":[-0.024,0.726],"nice":false,"zero":false},"axis":{"values":[0,0.1,0.2,0.3,0.4,0.5,0.6,0.7],"format":".1f"}}},"layer":[{"mark":{"type":"area"},"encoding":{"y":{"field":"l","type":"quantitative","title":null},"y2":{"field":"h"}}},{"mark":{"type":"line"},"encoding":{}}]},
{"width":302,"height":184,"data":{"name":"M3"},"encoding":{"x":{"field":"x","type":"quantitative","title":null,"scale":{"domain":[445,1279],"nice":false,"zero":false},"axis":{"values":[500,600,700,800,900,1000,1100,1200],"format":"d"}},"y":{"field":"m","type":"quantitative","title":null,"scale":{"domain":[-0.027,1.018],"nice":false,"zero":false},"axis":{"values":[0,0.1,0.2,0.3,0.4,0.5,0.6,0.7,0.8,0.9,1],"format":".1f"}}},"layer":[{"mark":{"type":"area","interpolate":"monotone"},"encoding":{"y":{"field":"l","type":"quantitative","title":null},"y2":{"field":"h"}}},{"mark":{"type":"line","interpolate":"monotone"},"encoding":{}}]},
{"width":306,"height":184,"data":{"name":"R3"},"encoding":{"x":{"field":"x","type":"quantitative","title":null,"scale":{"domain":[442,1281],"nice":false,"zero":false},"axis":{"values":[500,600,700,800,900,1000,1100,1200],"format":"d"}},"y":{"field":"m","type":"quantitative","title":null,"scale":{"domain":[-0.04,1.044],"nice":false,"zero":false},"axis":{"values":[0,0.1,0.2,0.3,0.4,0.5,0.6,0.7,0.8,0.9,1],"format":".1f"}}},"layer":[{"mark":{"type":"area","interpolate":"monotone"},"encoding":{"y":{"field":"l","type":"quantitative","title":null},"y2":{"field":"h"}}},{"mark":{"type":"line","interpolate":"monotone"},"encoding":{}}]},

{"width":288,"height":184,"data":{"name":"A4"},"layer":[
 {"mark":{"type":"area"},"encoding":{"x":{"field":"x","type":"quantitative","title":null,"scale":{"domain":[21.6,48],"nice":false,"zero":false},"axis":{"values":[22,24,26,28,30,32,34,36,38,40,42,44,46],"format":"d"}},"y":{"field":"l","type":"quantitative","title":null,"scale":{"domain":[0,0.626],"nice":false,"zero":false},"axis":{"values":[0,0.05,0.1,0.15,0.2,0.25,0.3,0.35,0.4,0.45,0.5,0.55,0.6],"format":".2f"}},"y2":{"field":"h"}}},
 {"mark":{"type":"line"},"encoding":{"x":{"field":"x","type":"quantitative","title":null,"scale":{"domain":[21.6,48],"nice":false,"zero":false},"axis":{"values":[22,24,26,28,30,32,34,36,38,40,42,44,46],"format":"d"}},"y":{"field":"m","type":"quantitative","title":null,"scale":{"domain":[0,0.626],"nice":false,"zero":false},"axis":{"values":[0,0.05,0.1,0.15,0.2,0.25,0.3,0.35,0.4,0.45,0.5,0.55,0.6],"format":".2f"}}}},
 {"data":{"values":[{"k":1}]},"mark":{"type":"text","text":"BIO 7"},"encoding":{"x":{"datum":22.3,"type":"quantitative","title":null,"scale":{"domain":[21.6,48],"nice":false,"zero":false},"axis":{"values":[22,24,26,28,30,32,34,36,38,40,42,44,46],"format":"d"}},"y":{"datum":0.255,"type":"quantitative","title":null,"scale":{"domain":[0,0.626],"nice":false,"zero":false},"axis":{"values":[0,0.05,0.1,0.15,0.2,0.25,0.3,0.35,0.4,0.45,0.5,0.55,0.6],"format":".2f"}}}}]},
{"width":292,"height":184,"data":{"name":"F4"},"encoding":{"x":{"field":"x","type":"quantitative","title":null,"scale":{"domain":[22.4,47.7],"nice":false,"zero":false},"axis":{"values":[24,26,28,30,32,34,36,38,40,42,44,46],"format":"d"}},"y":{"field":"m","type":"quantitative","title":null,"scale":{"domain":[0.036,0.576],"nice":false,"zero":false},"axis":{"values":[0.05,0.1,0.15,0.2,0.25,0.3,0.35,0.4,0.45,0.5,0.55],"format":".2f"}}},"layer":[{"mark":{"type":"area"},"encoding":{"y":{"field":"l","type":"quantitative","title":null},"y2":{"field":"h"}}},{"mark":{"type":"line"},"encoding":{}}]},
{"width":302,"height":184,"data":{"name":"M4"},"encoding":{"x":{"field":"x","type":"quantitative","title":null,"scale":{"domain":[22.3,47.9],"nice":false,"zero":false},"axis":{"values":[24,26,28,30,32,34,36,38,40,42,44,46],"format":"d"}},"y":{"field":"m","type":"quantitative","title":null,"scale":{"domain":[0.032,1.005],"nice":false,"zero":false},"axis":{"values":[0.1,0.2,0.3,0.4,0.5,0.6,0.7,0.8,0.9,1],"format":".1f"}}},"layer":[{"mark":{"type":"area"},"encoding":{"y":{"field":"l","type":"quantitative","title":null},"y2":{"field":"h"}}},{"mark":{"type":"line"},"encoding":{}}]},
{"width":306,"height":184,"data":{"name":"R4"},"encoding":{"x":{"field":"x","type":"quantitative","title":null,"scale":{"domain":[22.3,47.7],"nice":false,"zero":false},"axis":{"values":[24,26,28,30,32,34,36,38,40,42,44,46],"format":"d"}},"y":{"field":"m","type":"quantitative","title":null,"scale":{"domain":[0.071,0.568],"nice":false,"zero":false},"axis":{"values":[0.1,0.15,0.2,0.25,0.3,0.35,0.4,0.45,0.5,0.55],"format":".2f"}}},"layer":[{"mark":{"type":"area"},"encoding":{"y":{"field":"l","type":"quantitative","title":null},"y2":{"field":"h"}}},{"mark":{"type":"line"},"encoding":{}}]},

{"width":288,"height":184,"data":{"name":"A5"},"layer":[
 {"mark":{"type":"area"},"encoding":{"x":{"field":"x","type":"quantitative","title":null,"scale":{"domain":[-23.2,41.9],"nice":false,"zero":false},"axis":{"values":[-20,-15,-10,-5,0,5,10,15,20,25,30,35,40],"format":"d"}},"y":{"field":"l","type":"quantitative","title":null,"scale":{"domain":[-0.034,0.645],"nice":false,"zero":false},"axis":{"values":[0,0.05,0.1,0.15,0.2,0.25,0.3,0.35,0.4,0.45,0.5,0.55,0.6],"format":".2f"}},"y2":{"field":"h"}}},
 {"mark":{"type":"line"},"encoding":{"x":{"field":"x","type":"quantitative","title":null,"scale":{"domain":[-23.2,41.9],"nice":false,"zero":false},"axis":{"values":[-20,-15,-10,-5,0,5,10,15,20,25,30,35,40],"format":"d"}},"y":{"field":"m","type":"quantitative","title":null,"scale":{"domain":[-0.034,0.645],"nice":false,"zero":false},"axis":{"values":[0,0.05,0.1,0.15,0.2,0.25,0.3,0.35,0.4,0.45,0.5,0.55,0.6],"format":".2f"}}}},
 {"data":{"values":[{"k":1}]},"mark":{"type":"text","text":"BIO 8"},"encoding":{"x":{"datum":-22.6,"type":"quantitative","title":null,"scale":{"domain":[-23.2,41.9],"nice":false,"zero":false},"axis":{"values":[-20,-15,-10,-5,0,5,10,15,20,25,30,35,40],"format":"d"}},"y":{"datum":0.19,"type":"quantitative","title":null,"scale":{"domain":[-0.034,0.645],"nice":false,"zero":false},"axis":{"values":[0,0.05,0.1,0.15,0.2,0.25,0.3,0.35,0.4,0.45,0.5,0.55,0.6],"format":".2f"}}}}]},
{"width":292,"height":184,"data":{"name":"F5"},"encoding":{"x":{"field":"x","type":"quantitative","title":null,"scale":{"domain":[-23.3,40.6],"nice":false,"zero":false},"axis":{"values":[-20,-15,-10,-5,0,5,10,15,20,25,30,35,40],"format":"d"}},"y":{"field":"m","type":"quantitative","title":null,"scale":{"domain":[0.037,1.014],"nice":false,"zero":false},"axis":{"values":[0.1,0.2,0.3,0.4,0.5,0.6,0.7,0.8,0.9,1],"format":".1f"}}},"layer":[{"mark":{"type":"area","interpolate":"monotone"},"encoding":{"y":{"field":"l","type":"quantitative","title":null},"y2":{"field":"h"}}},{"mark":{"type":"line","interpolate":"monotone"},"encoding":{}}]},
{"width":302,"height":184,"data":{"name":"M5"},"encoding":{"x":{"field":"x","type":"quantitative","title":null,"scale":{"domain":[-26.9,41.3],"nice":false,"zero":false},"axis":{"values":[-25,-20,-15,-10,-5,0,5,10,15,20,25,30,35,40],"format":"d"}},"y":{"field":"m","type":"quantitative","title":null,"scale":{"domain":[-0.04,0.869],"nice":false,"zero":false},"axis":{"values":[0,0.1,0.2,0.3,0.4,0.5,0.6,0.7,0.8],"format":".1f"}}},"layer":[{"mark":{"type":"area","interpolate":"monotone"},"encoding":{"y":{"field":"l","type":"quantitative","title":null},"y2":{"field":"h"}}},{"mark":{"type":"line","interpolate":"monotone"},"encoding":{}}]},
{"width":306,"height":184,"data":{"name":"R5"},"encoding":{"x":{"field":"x","type":"quantitative","title":null,"scale":{"domain":[-22.6,41.8],"nice":false,"zero":false},"axis":{"values":[-20,-15,-10,-5,0,5,10,15,20,25,30,35,40],"format":"d"}},"y":{"field":"m","type":"quantitative","title":null,"scale":{"domain":[0.187,0.954],"nice":false,"zero":false},"axis":{"values":[0.2,0.3,0.4,0.5,0.6,0.7,0.8,0.9],"format":".1f"}}},"layer":[{"mark":{"type":"area"},"encoding":{"y":{"field":"l","type":"quantitative","title":null},"y2":{"field":"h"}}},{"mark":{"type":"line"},"encoding":{}}]},

{"width":288,"height":184,"data":{"name":"A6"},"layer":[
 {"mark":{"type":"area"},"encoding":{"x":{"field":"x","type":"quantitative","title":null,"scale":{"domain":[-176,2986],"nice":false,"zero":false},"axis":{"values":[0,500,1000,1500,2000,2500],"format":"d"}},"y":{"field":"l","type":"quantitative","title":null,"scale":{"domain":[-0.03,0.667],"nice":false,"zero":false},"axis":{"values":[0,0.05,0.1,0.15,0.2,0.25,0.3,0.35,0.4,0.45,0.5,0.55,0.6,0.65],"format":".2f"}},"y2":{"field":"h"}}},
 {"mark":{"type":"line"},"encoding":{"x":{"field":"x","type":"quantitative","title":null,"scale":{"domain":[-176,2986],"nice":false,"zero":false},"axis":{"values":[0,500,1000,1500,2000,2500],"format":"d"}},"y":{"field":"m","type":"quantitative","title":null,"scale":{"domain":[-0.03,0.667],"nice":false,"zero":false},"axis":{"values":[0,0.05,0.1,0.15,0.2,0.25,0.3,0.35,0.4,0.45,0.5,0.55,0.6,0.65],"format":".2f"}}}},
 {"data":{"values":[{"k":1}]},"mark":{"type":"text","text":"BIO 12"},"encoding":{"x":{"datum":230,"type":"quantitative","title":null,"scale":{"domain":[-176,2986],"nice":false,"zero":false},"axis":{"values":[0,500,1000,1500,2000,2500],"format":"d"}},"y":{"datum":0.127,"type":"quantitative","title":null,"scale":{"domain":[-0.03,0.667],"nice":false,"zero":false},"axis":{"values":[0,0.05,0.1,0.15,0.2,0.25,0.3,0.35,0.4,0.45,0.5,0.55,0.6,0.65],"format":".2f"}}}}]},
{"width":292,"height":184,"data":{"name":"F6"},"encoding":{"x":{"field":"x","type":"quantitative","title":null,"scale":{"domain":[-183,2893],"nice":false,"zero":false},"axis":{"values":[0,500,1000,1500,2000,2500],"format":"d"}},"y":{"field":"m","type":"quantitative","title":null,"scale":{"domain":[-0.058,1.01],"nice":false,"zero":false},"axis":{"values":[0,0.1,0.2,0.3,0.4,0.5,0.6,0.7,0.8,0.9,1],"format":".1f"}}},"layer":[{"mark":{"type":"area"},"encoding":{"y":{"field":"l","type":"quantitative","title":null},"y2":{"field":"h"}}},{"mark":{"type":"line"},"encoding":{}}]},
{"width":302,"height":184,"data":{"name":"M6"},"encoding":{"x":{"field":"x","type":"quantitative","title":null,"scale":{"domain":[-465,2846],"nice":false,"zero":false},"axis":{"values":[0,500,1000,1500,2000,2500],"format":"d"}},"y":{"field":"m","type":"quantitative","title":null,"scale":{"domain":[-0.012,0.612],"nice":false,"zero":false},"axis":{"values":[0,0.05,0.1,0.15,0.2,0.25,0.3,0.35,0.4,0.45,0.5,0.55,0.6],"format":".2f"}}},"layer":[{"mark":{"type":"area"},"encoding":{"y":{"field":"l","type":"quantitative","title":null},"y2":{"field":"h"}}},{"mark":{"type":"line"},"encoding":{}}]},
{"width":306,"height":184,"data":{"name":"R6"},"encoding":{"x":{"field":"x","type":"quantitative","title":null,"scale":{"domain":[-637,2843],"nice":false,"zero":false},"axis":{"values":[0,500,1000,1500,2000,2500],"format":"d"}},"y":{"field":"m","type":"quantitative","title":null,"scale":{"domain":[-0.04,1.033],"nice":false,"zero":false},"axis":{"values":[0,0.1,0.2,0.3,0.4,0.5,0.6,0.7,0.8,0.9,1],"format":".1f"}}},"layer":[{"mark":{"type":"area"},"encoding":{"y":{"field":"l","type":"quantitative","title":null},"y2":{"field":"h"}}},{"mark":{"type":"line"},"encoding":{}}]},

{"width":288,"height":184,"data":{"name":"A7"},"layer":[
 {"mark":{"type":"area"},"encoding":{"x":{"field":"x","type":"quantitative","title":null,"scale":{"domain":[14.5,143.9],"nice":false,"zero":false},"axis":{"values":[20,30,40,50,60,70,80,90,100,110,120,130,140],"format":"d"}},"y":{"field":"l","type":"quantitative","title":null,"scale":{"domain":[-0.03,0.77],"nice":false,"zero":false},"axis":{"values":[0,0.1,0.2,0.3,0.4,0.5,0.6,0.7],"format":".1f"}},"y2":{"field":"h"}}},
 {"mark":{"type":"line"},"encoding":{"x":{"field":"x","type":"quantitative","title":null,"scale":{"domain":[14.5,143.9],"nice":false,"zero":false},"axis":{"values":[20,30,40,50,60,70,80,90,100,110,120,130,140],"format":"d"}},"y":{"field":"m","type":"quantitative","title":null,"scale":{"domain":[-0.03,0.77],"nice":false,"zero":false},"axis":{"values":[0,0.1,0.2,0.3,0.4,0.5,0.6,0.7],"format":".1f"}}}},
 {"data":{"values":[{"k":1}]},"mark":{"type":"text","text":"BIO 15"},"encoding":{"x":{"datum":18,"type":"quantitative","title":null,"scale":{"domain":[14.5,143.9],"nice":false,"zero":false},"axis":{"values":[20,30,40,50,60,70,80,90,100,110,120,130,140],"format":"d"}},"y":{"datum":0.15,"type":"quantitative","title":null,"scale":{"domain":[-0.03,0.77],"nice":false,"zero":false},"axis":{"values":[0,0.1,0.2,0.3,0.4,0.5,0.6,0.7],"format":".1f"}}}}]},
{"width":292,"height":184,"data":{"name":"F7"},"encoding":{"x":{"field":"x","type":"quantitative","title":null,"scale":{"domain":[16.8,143.2],"nice":false,"zero":false},"axis":{"values":[20,30,40,50,60,70,80,90,100,110,120,130,140],"format":"d"}},"y":{"field":"m","type":"quantitative","title":null,"scale":{"domain":[-0.045,1.02],"nice":false,"zero":false},"axis":{"values":[0,0.1,0.2,0.3,0.4,0.5,0.6,0.7,0.8,0.9,1],"format":".1f"}}},"layer":[{"mark":{"type":"area","interpolate":"monotone"},"encoding":{"y":{"field":"l","type":"quantitative","title":null},"y2":{"field":"h"}}},{"mark":{"type":"line","interpolate":"monotone"},"encoding":{}}]},
{"width":302,"height":184,"data":{"name":"M7"},"encoding":{"x":{"field":"x","type":"quantitative","title":null,"scale":{"domain":[11,142],"nice":false,"zero":false},"axis":{"values":[20,30,40,50,60,70,80,90,100,110,120,130,140],"format":"d"}},"y":{"field":"m","type":"quantitative","title":null,"scale":{"domain":[-0.021,0.614],"nice":false,"zero":false},"axis":{"values":[0,0.05,0.1,0.15,0.2,0.25,0.3,0.35,0.4,0.45,0.5,0.55,0.6],"format":".2f"}}},"layer":[{"mark":{"type":"area"},"encoding":{"y":{"field":"l","type":"quantitative","title":null},"y2":{"field":"h"}}},{"mark":{"type":"line"},"encoding":{}}]},
{"width":306,"height":184,"data":{"name":"R7"},"encoding":{"x":{"field":"x","type":"quantitative","title":null,"scale":{"domain":[15.7,141.6],"nice":false,"zero":false},"axis":{"values":[20,30,40,50,60,70,80,90,100,110,120,130,140],"format":"d"}},"y":{"field":"m","type":"quantitative","title":null,"scale":{"domain":[-0.026,0.958],"nice":false,"zero":false},"axis":{"values":[0,0.1,0.2,0.3,0.4,0.5,0.6,0.7,0.8,0.9],"format":".1f"}}},"layer":[{"mark":{"type":"area","interpolate":"monotone"},"encoding":{"y":{"field":"l","type":"quantitative","title":null},"y2":{"field":"h"}}},{"mark":{"type":"line","interpolate":"monotone"},"encoding":{}}]},

{"width":288,"height":184,"data":{"name":"A8"},"layer":[
 {"mark":{"type":"area"},"encoding":{"x":{"field":"x","type":"quantitative","title":null,"scale":{"domain":[-871,8515],"nice":false,"zero":false},"axis":{"values":[0,1000,2000,3000,4000,5000,6000,7000,8000],"format":"d"}},"y":{"field":"l","type":"quantitative","title":null,"scale":{"domain":[-0.035,0.724],"nice":false,"zero":false},"axis":{"values":[0,0.1,0.2,0.3,0.4,0.5,0.6,0.7],"format":".1f"}},"y2":{"field":"h"}}},
 {"mark":{"type":"line"},"encoding":{"x":{"field":"x","type":"quantitative","title":null,"scale":{"domain":[-871,8515],"nice":false,"zero":false},"axis":{"values":[0,1000,2000,3000,4000,5000,6000,7000,8000],"format":"d"}},"y":{"field":"m","type":"quantitative","title":null,"scale":{"domain":[-0.035,0.724],"nice":false,"zero":false},"axis":{"values":[0,0.1,0.2,0.3,0.4,0.5,0.6,0.7],"format":".1f"}}}},
 {"data":{"values":[{"k":1}]},"mark":{"type":"text","text":"ELEVATION"},"encoding":{"x":{"datum":-560,"type":"quantitative","title":null,"scale":{"domain":[-871,8515],"nice":false,"zero":false},"axis":{"values":[0,1000,2000,3000,4000,5000,6000,7000,8000],"format":"d"}},"y":{"datum":0.34,"type":"quantitative","title":null,"scale":{"domain":[-0.035,0.724],"nice":false,"zero":false},"axis":{"values":[0,0.1,0.2,0.3,0.4,0.5,0.6,0.7],"format":".1f"}}}}]},
{"width":292,"height":184,"data":{"name":"F8"},"encoding":{"x":{"field":"x","type":"quantitative","title":null,"scale":{"domain":[-755,8264],"nice":false,"zero":false},"axis":{"values":[0,1000,2000,3000,4000,5000,6000,7000,8000],"format":"d"}},"y":{"field":"m","type":"quantitative","title":null,"scale":{"domain":[-0.028,0.755],"nice":false,"zero":false},"axis":{"values":[0,0.1,0.2,0.3,0.4,0.5,0.6,0.7],"format":".1f"}}},"layer":[{"mark":{"type":"area","interpolate":"monotone"},"encoding":{"y":{"field":"l","type":"quantitative","title":null},"y2":{"field":"h"}}},{"mark":{"type":"line","interpolate":"monotone"},"encoding":{}}]},
{"width":302,"height":184,"data":{"name":"M8"},"encoding":{"x":{"field":"x","type":"quantitative","title":null,"scale":{"domain":[-1190,8190],"nice":false,"zero":false},"axis":{"values":[0,1000,2000,3000,4000,5000,6000,7000,8000],"format":"d"}},"y":{"field":"m","type":"quantitative","title":null,"scale":{"domain":[-0.013,0.698],"nice":false,"zero":false},"axis":{"values":[0,0.05,0.1,0.15,0.2,0.25,0.3,0.35,0.4,0.45,0.5,0.55,0.6,0.65],"format":".2f"}}},"layer":[{"mark":{"type":"area"},"encoding":{"y":{"field":"l","type":"quantitative","title":null},"y2":{"field":"h"}}},{"mark":{"type":"line"},"encoding":{}}]},
{"width":306,"height":184,"data":{"name":"R8"},"encoding":{"x":{"field":"x","type":"quantitative","title":null,"scale":{"domain":[-1087,9087],"nice":false,"zero":false},"axis":{"values":[-1000,0,1000,2000,3000,4000,5000,6000,7000,8000,9000],"format":"d"}},"y":{"field":"m","type":"quantitative","title":null,"scale":{"domain":[-0.014,0.719],"nice":false,"zero":false},"axis":{"values":[0,0.1,0.2,0.3,0.4,0.5,0.6,0.7],"format":".1f"}}},"layer":[{"mark":{"type":"area"},"encoding":{"y":{"field":"l","type":"quantitative","title":null},"y2":{"field":"h"}}},{"mark":{"type":"line"},"encoding":{}}]}
]
}
